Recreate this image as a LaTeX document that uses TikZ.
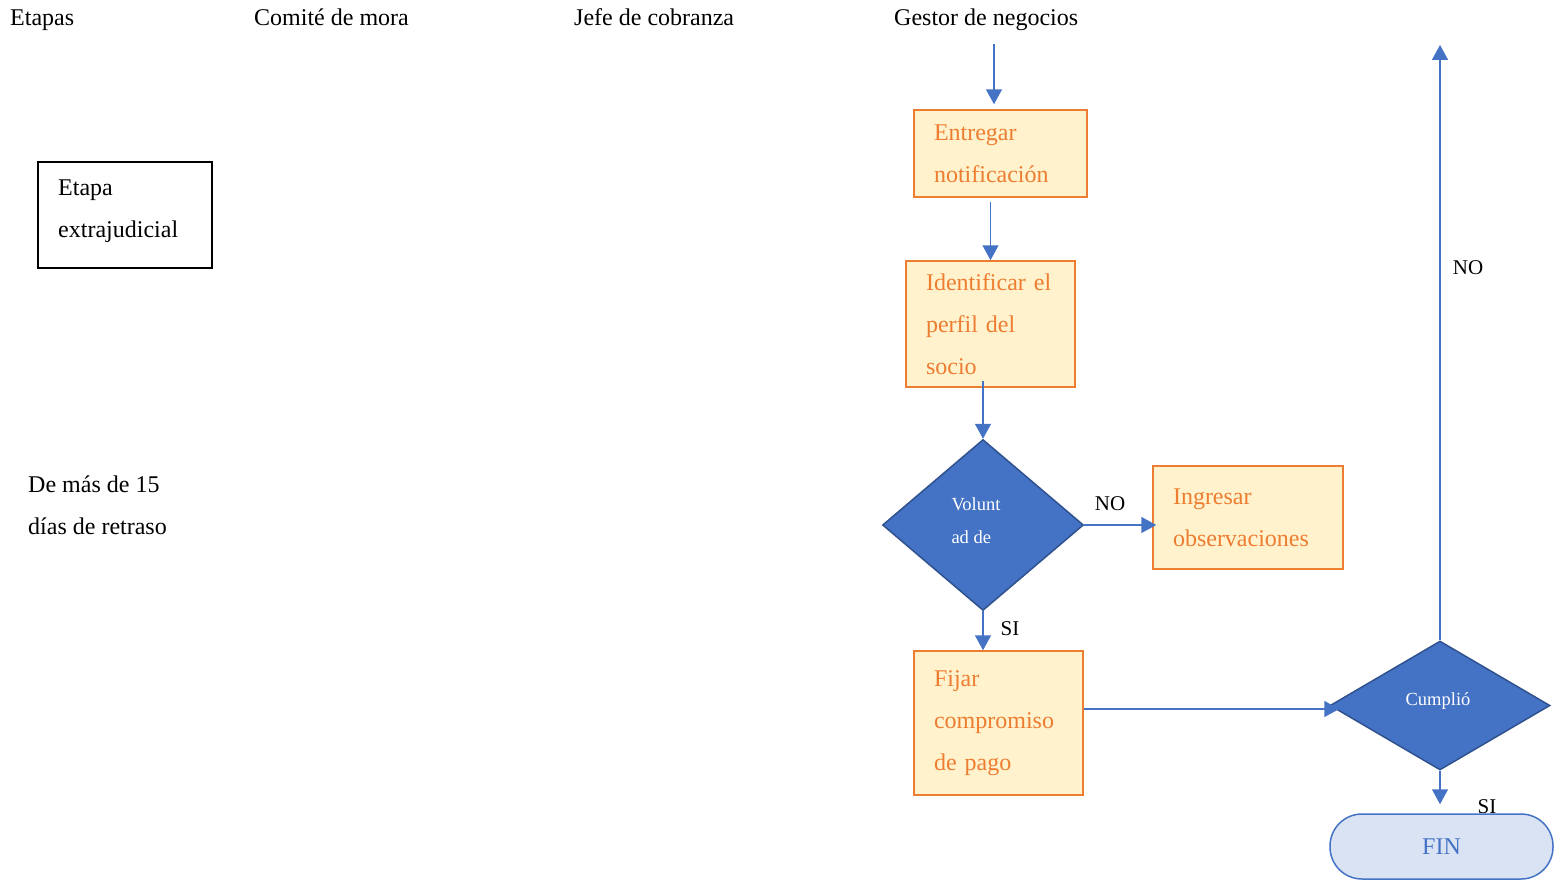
\documentclass[tikz,border=0pt]{standalone}
\usepackage{fontspec}
\setmainfont{Liberation Serif}
\usetikzlibrary{shapes.geometric,arrows.meta}
\definecolor{orangeline}{HTML}{ED7D31}
\definecolor{orangefill}{HTML}{FFF2CC}
\definecolor{flowblue}{HTML}{4472C4}
\definecolor{darkblue}{HTML}{2F528F}
\definecolor{finfill}{HTML}{DAE3F3}
\begin{document}
\begin{tikzpicture}[x=1pt,y=-1pt,
  bigtext/.style={font=\fontsize{24}{42}\selectfont},
  header/.style={bigtext,anchor=base west,inner sep=0pt},
  task/.style={bigtext,rectangle,draw=orangeline,fill=orangefill,line width=1.5pt,
    text=orangeline,align=left,inner xsep=20pt,inner ysep=0pt},
  decision/.style={diamond,draw=darkblue,fill=flowblue,line width=1.5pt,text=white,
    inner sep=0pt,align=left,font=\fontsize{18.5}{33}\selectfont},
  lbl/.style={font=\fontsize{21}{25}\selectfont,inner sep=0pt},
  flow/.style={draw=flowblue,line width=1.5pt,-{Triangle[length=15pt,width=16pt]}}]
\useasboundingbox (0,0) rectangle (1561,891);

% column headers
\node[header] (hEtapas) at (10,26) {Etapas};
\node[header] (hComite) at (254,26) {Comité de mora};
\node[header] (hJefe) at (574,26) {Jefe de cobranza};
\node[header] (hGestor) at (894,26) {Gestor de negocios};

% stage column
\node[draw=black,line width=1.2pt,minimum width=174pt,minimum height=106pt]
  (etapa) at (125,215) {};
\node[bigtext,align=left,anchor=base west,inner sep=0pt] (etapatext) at (58,237)
  {Etapa\\extrajudicial};
\node[bigtext,align=left,anchor=base west,inner sep=0pt] (plazo) at (28,534)
  {De más de 15\\días de retraso};

% process boxes
\node[task,text width=133pt,minimum height=87pt] (entregar) at (1000.5,153.5)
  {Entregar\\notificación};
\node[task,text width=129pt,minimum height=126pt] (ident) at (990.5,324)
  {Identificar el\\perfil del\\socio};
\node[decision,minimum width=201pt,minimum height=171pt] (vol) at (983,525) {};
\node[text=white,align=left,inner sep=0pt,font=\fontsize{18.5}{33}\selectfont]
  (voltext) at (976,521) {Volunt\\ad de};
\node[task,text width=150pt,minimum height=103pt] (ingresar) at (1248,517.5)
  {Ingresar\\observaciones};
\node[task,text width=129pt,minimum height=144pt] (fijar) at (998.5,723)
  {Fijar\\compromiso\\de pago};
\node[decision,minimum width=220pt,minimum height=129pt] (cumplio) at (1440,705.5) {};
\node[text=white,inner sep=0pt,font=\fontsize{18.5}{33}\selectfont]
  (cumpliotext) at (1438,701) {Cumplió};

% labels on the branches
\node[lbl] (lNo1) at (1110,504) {NO};
\node[lbl] (lSi1) at (1010,629) {SI};
\node[lbl] (lNo2) at (1468,268) {NO};
\node[lbl] (lSi2) at (1487,807) {SI};

\node[rectangle,rounded corners=32pt,draw=flowblue,fill=finfill,line width=1.5pt,
  text=flowblue,minimum width=223pt,minimum height=65pt,
  font=\fontsize{24}{28}\selectfont] (fin) at (1441.5,846.5) {FIN};

% connectors
\coordinate (inicio) at (994,44);
\coordinate (retorno) at (1440,45);
\draw[flow] (inicio) -- ([yshift=5pt]inicio |- entregar.north);
\draw[flow] ([yshift=-4pt]entregar.south -| ident.north) -- (ident.north);
\draw[flow] ([yshift=7pt]ident.south -| vol.north) -- (vol.north);
\draw[flow] (vol.east) -- ([xshift=4pt]vol.east -| ingresar.west);
\draw[flow] (vol.south) -- (vol.south |- fijar.north);
\draw[flow] ([yshift=14pt]fijar.east) -- ([yshift=14pt,xshift=10pt]fijar.east -| cumplio.west);
\draw[flow] (cumplio.south) -- ([yshift=9pt]fin.north -| cumplio.south);
\draw[flow] (cumplio.north) -- (retorno);
\end{tikzpicture}
\end{document}
